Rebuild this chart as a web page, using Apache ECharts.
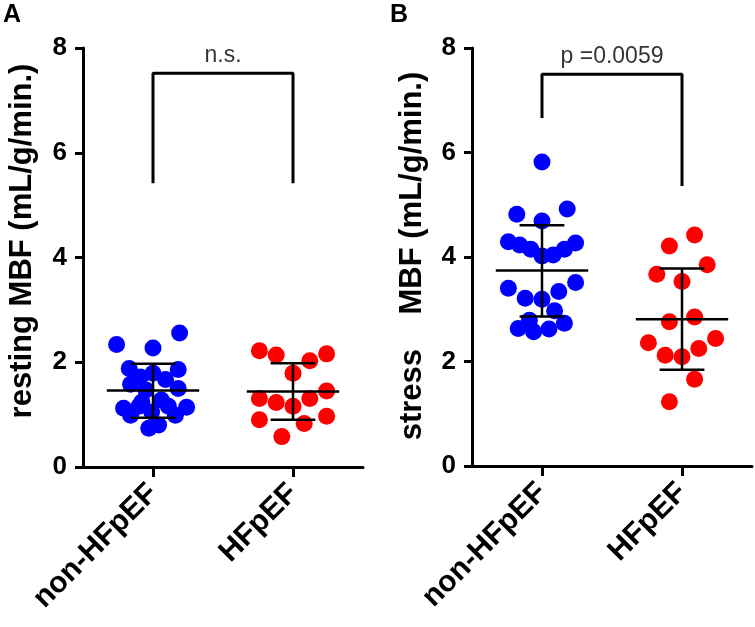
<!DOCTYPE html>
<html>
<head>
<meta charset="utf-8">
<script src="https://cdn.jsdelivr.net/npm/echarts@6/dist/echarts.min.js"></script>
<style>
html,body{margin:0;padding:0;background:#fff;}
#chart{width:755px;height:627px;}
</style>
</head>
<body>
<div id="chart"></div>
<script>
// ---- data ----
const categories = ['non-HFpEF', 'HFpEF'];
const yMin = 0, yMax = 8, yInterval = 2;

// Panel A: resting MBF
const restNonValues = [2.56,2.34,2.27,1.88,1.86,1.79,1.72,1.67,1.58,1.50,1.47,1.28,1.24,1.16,1.16,1.14,1.12,1.05,0.99,0.99,0.80,0.74];
const restNonJitter = [0.19,-0.26,0.0,-0.17,0.18,0.0,-0.09,0.09,-0.16,0.18,-0.05,0.06,-0.08,0.11,-0.10,0.24,-0.21,-0.01,-0.16,0.16,0.04,-0.03];
const restHfValues = [2.22,2.14,2.03,2.16,1.79,1.31,1.23,1.16,1.31,1.45,0.90,0.83,0.97,0.58];
const restHfJitter = [-0.24,-0.12,0.12,0.24,0,-0.24,-0.12,0,0.12,0.24,-0.24,0.08,0.24,-0.08];
// mean, lower SD, upper SD
const restSummary = [[1.46,0.94,1.97],[1.44,0.90,1.98]];
const restBracket = [5.42, 7.52, 5.42];
const restLabel = 'n.s.';

// Panel B: stress MBF
const stressNonValues = [5.82,4.82,4.92,4.69,4.29,4.23,4.15,4.02,4.04,4.15,4.27,3.40,3.51,3.21,3.19,3.34,2.97,2.79,2.63,2.57,2.62,2.73];
const stressNonJitter = [0,-0.18,0.18,0,-0.24,-0.16,-0.08,0,0.08,0.16,0.24,-0.24,0.24,-0.12,0,0.12,0.09,-0.09,-0.17,-0.06,0.05,0.16];
const stressHfValues = [4.42,4.21,3.85,3.67,3.53,2.76,2.85,2.36,2.44,2.25,2.12,2.09,1.66,1.23];
const stressHfJitter = [0.09,-0.09,0.18,-0.18,0,-0.09,0.09,-0.24,0.24,0.12,-0.12,0,0.09,-0.09];
const stressSummary = [[3.74,2.86,4.61],[2.81,1.84,3.78]];
const stressBracket = [6.66, 7.50, 5.36];
const stressLabel = 'p =0.0059';

const yNames = ['resting MBF (mL/g/min.)', 'stress    MBF (mL/g/min.)'];
const panelLetters = ['A', 'B'];

// ---- styling ----
const FONT = '"Liberation Sans", Arial, Helvetica, sans-serif';
const BLUE = '#0000ff', RED = '#ff0000';
const MEAN_HALF = 0.33, CAP_HALF = 0.16;
const DOT = 17;

const chart = echarts.init(document.getElementById('chart'), null, {renderer: 'canvas'});

function pts(vals, jit, cat) {
  return vals.map((v, i) => [cat + jit[i], v]);
}

function errRender(params, api) {
  const x = api.value(0), m = api.value(1), lo = api.value(2), hi = api.value(3);
  const style = {stroke: '#000', lineWidth: 2.5};
  const seg = (x1, y1, x2, y2) => {
    const a = api.coord([x1, y1]), b = api.coord([x2, y2]);
    return {type: 'line', shape: {x1: a[0], y1: a[1], x2: b[0], y2: b[1]}, style: style};
  };
  return {type: 'group', children: [
    seg(x, lo, x, hi),
    seg(x - MEAN_HALF, m, x + MEAN_HALF, m),
    seg(x - CAP_HALF, hi, x + CAP_HALF, hi),
    seg(x - CAP_HALF, lo, x + CAP_HALF, lo)
  ]};
}

function catAxis(gridIndex) {
  return {
    type: 'category', gridIndex: gridIndex, data: categories, boundaryGap: true,
    axisLine: {show: true, onZero: false, lineStyle: {color: '#000', width: 3}},
    axisTick: {show: true, alignWithLabel: true, length: 10, lineStyle: {color: '#000', width: 3}},
    axisLabel: {rotate: 45, margin: 22, color: '#000', fontFamily: FONT, fontWeight: 'bold', fontSize: 30},
    splitLine: {show: false}
  };
}
function valXAxis(gridIndex) {
  return {type: 'value', gridIndex: gridIndex, min: -0.5, max: 1.5, show: false, splitLine: {show: false}};
}
function yAxis(gridIndex) {
  return {
    type: 'value', gridIndex: gridIndex, min: yMin, max: yMax, interval: yInterval,
    axisLine: {show: true, onZero: false, lineStyle: {color: '#000', width: 3}},
    axisTick: {show: true, length: 8, lineStyle: {color: '#000', width: 3}},
    axisLabel: {margin: 16, color: '#000', fontFamily: FONT, fontWeight: 'bold', fontSize: 26},
    splitLine: {show: false}
  };
}

function panelSeries(xIdx, yIdx, nonVals, nonJit, hfVals, hfJit, summary, bracket, label) {
  return [
    {type: 'scatter', xAxisIndex: xIdx, yAxisIndex: yIdx, symbolSize: DOT, itemStyle: {color: BLUE, opacity: 1}, data: pts(nonVals, nonJit, 0), z: 2, silent: true},
    {type: 'scatter', xAxisIndex: xIdx, yAxisIndex: yIdx, symbolSize: DOT, itemStyle: {color: RED, opacity: 1}, data: pts(hfVals, hfJit, 1), z: 2, silent: true},
    {type: 'custom', xAxisIndex: xIdx, yAxisIndex: yIdx, renderItem: errRender, z: 5, silent: true,
      encode: {x: 0, y: [1, 2, 3]},
      data: summary.map((s, i) => [i, s[0], s[1], s[2]])},
    {type: 'line', xAxisIndex: xIdx, yAxisIndex: yIdx, symbol: 'none', z: 5, silent: true,
      lineStyle: {color: '#000', width: 3}, animation: false,
      data: [[0, bracket[0]], [0, bracket[1]], [1, bracket[1]], [1, bracket[2]]]},
    {type: 'scatter', xAxisIndex: xIdx, yAxisIndex: yIdx, symbolSize: 0, silent: true,
      data: [[0.5, bracket[1]]],
      label: {show: true, position: 'top', distance: 6, formatter: label, color: '#000', fontFamily: FONT, fontSize: 23}}
  ];
}

const option = {
  backgroundColor: '#fff',
  animation: false,
  grid: [
    {left: 83, top: 48, width: 280, height: 419},
    {left: 472, top: 48, width: 280, height: 418}
  ],
  xAxis: [catAxis(0), valXAxis(0), catAxis(1), valXAxis(1)],
  yAxis: [yAxis(0), yAxis(1)],
  series: [].concat(
    panelSeries(1, 0, restNonValues, restNonJitter, restHfValues, restHfJitter, restSummary, restBracket, restLabel),
    panelSeries(3, 1, stressNonValues, stressNonJitter, stressHfValues, stressHfJitter, stressSummary, stressBracket, stressLabel)
  ),
  graphic: [
    {type: 'text', left: 3, top: 3, style: {text: panelLetters[0], font: 'bold 25px ' + FONT, fill: '#000'}},
    {type: 'text', left: 390, top: 3, style: {text: panelLetters[1], font: 'bold 25px ' + FONT, fill: '#000'}},
    {type: 'text', x: 22, y: 241, rotation: Math.PI / 2,
      style: {text: yNames[0], font: 'bold 31px ' + FONT, fill: '#000', align: 'center', verticalAlign: 'middle'}},
    {type: 'text', x: 412, y: 256, rotation: Math.PI / 2,
      style: {text: yNames[1], font: 'bold 31px ' + FONT, fill: '#000', align: 'center', verticalAlign: 'middle'}}
  ]
};
chart.setOption(option);
</script>
</body>
</html>
